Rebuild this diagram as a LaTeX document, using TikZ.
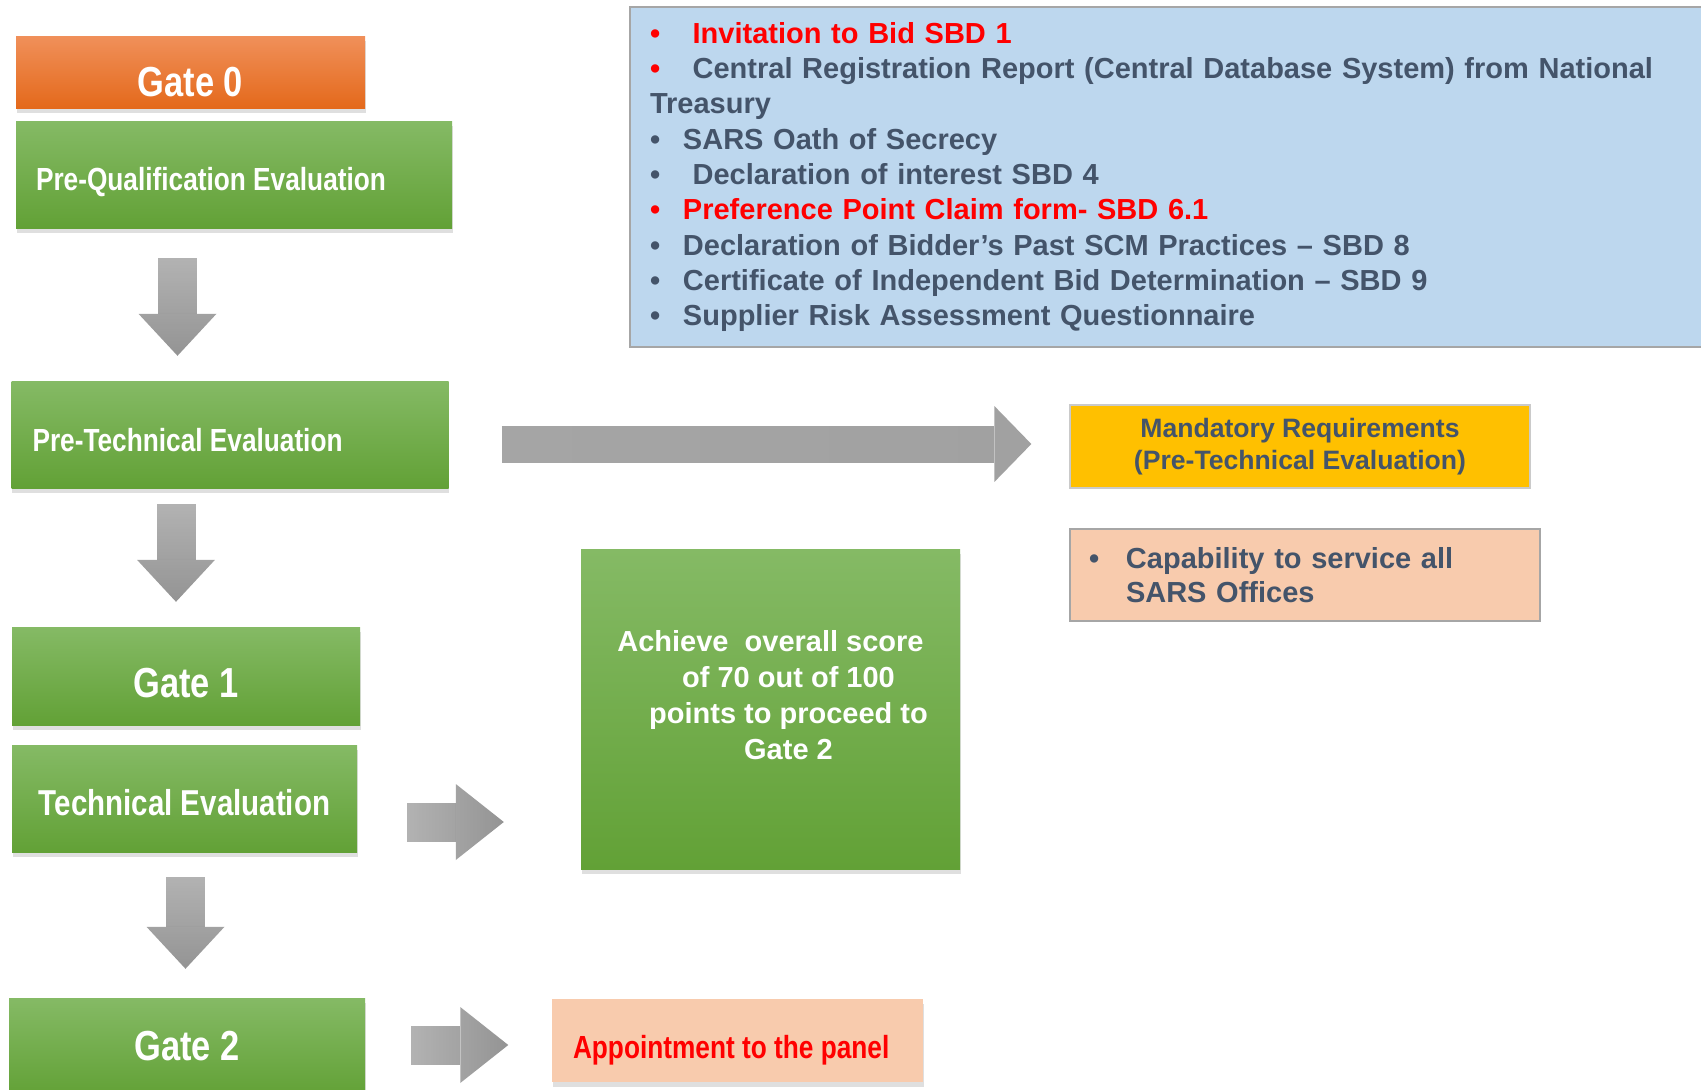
\documentclass[tikz,border=0pt]{standalone}
\usepackage{fontspec}
\setmainfont{Liberation Sans}
\newfontfamily\narrowfont{Liberation Sans}[FakeStretch=0.82]
\usetikzlibrary{arrows.meta,shadows,fadings}
\definecolor{orangetop}{HTML}{F0905A}
\definecolor{orangemid}{HTML}{F47C2C}
\definecolor{orangebot}{HTML}{E4691B}
\definecolor{greentop}{HTML}{85BA65}
\definecolor{greenmid}{HTML}{70B044}
\definecolor{greenbot}{HTML}{62A136}
\definecolor{listblue}{HTML}{BDD7EE}
\definecolor{boxgray}{HTML}{A6A6A6}
\definecolor{textgray}{HTML}{44546A}
\definecolor{mandyellow}{HTML}{FFC000}
\definecolor{peach}{HTML}{F8CBAD}
\definecolor{arrowgray}{HTML}{8E8E8E}
\newcommand{\blt}[1][33pt]{\makebox[#1][l]{•}}
\tikzfading[name=vfade,top color=transparent!38,bottom color=transparent!0]
\tikzfading[name=hfade,left color=transparent!38,right color=transparent!0]
\begin{tikzfadingfrompicture}[name=longfade]
	\shade[left color=transparent!38,right color=transparent!0] (-275pt,-50pt) rectangle (275pt,50pt);
\end{tikzfadingfrompicture}
\begin{document}
\begin{tikzpicture}
		[x=1pt,y=-1pt,
		shadowed/.style={drop shadow={shadow xshift=0.5pt,shadow yshift=-5pt,opacity=0.25}},
		orangebox/.style={rectangle,top color=orangetop,middle color=orangemid,bottom color=orangebot,
shadowed,inner sep=0pt,text=white},
		greenbox/.style={rectangle,top color=greentop,middle color=greenmid,bottom color=greenbot,
shadowed,inner sep=0pt,text=white},
		listbox/.style={rectangle,fill=listblue,draw=boxgray,line width=1.5pt,inner sep=0pt},
		yellowbox/.style={rectangle,fill=mandyellow,draw=boxgray!60,line width=1.5pt,inner sep=0pt},
		peachbox/.style={rectangle,fill=peach,draw=boxgray,line width=1.5pt,inner sep=0pt},
		gatetext/.style={font=\narrowfont\bfseries\fontsize{42}{48}\selectfont,text depth=0pt},
		evaltext/.style={font=\narrowfont\bfseries\fontsize{32}{38}\selectfont,text depth=0pt},
		bodytext/.style={font=\bfseries\fontsize{29}{35.3}\selectfont},
		vertarrow/.style={draw=arrowgray,line width=39pt,path fading=vfade,
-{Triangle[width=78pt,length=42pt,line width=0pt]}},
		horzarrow/.style={draw=arrowgray,line width=39pt,path fading=hfade,
-{Triangle[width=76pt,length=48pt,line width=0pt]}}]
		\fill[white] (0,0) rectangle (1701,1090);
		\useasboundingbox (0,0) rectangle (1701,1090);
		% left column
		\node at (190.5,72) (gate0) [orangebox,gatetext,text height=48,minimum width=349,minimum height=72] {Gate 0};
		\node at (234,174.5) (prequal) [greenbox,evaltext,text height=32,minimum width=436,minimum height=107,
text width=396,inner xsep=20,align=flush left] {Pre-Qualification Evaluation};
		\node at (230,434.5) (pretech) [greenbox,evaltext,text height=33,minimum width=436,minimum height=107,
text width=395,inner xsep=21,align=flush left] {Pre-Technical Evaluation};
		\node at (186,676) (gate1) [greenbox,gatetext,text height=42,minimum width=348,minimum height=98] {Gate 1};
		\node at (184.5,798.5) (techeval) [greenbox,font=\narrowfont\bfseries\fontsize{36}{42}\selectfont,
text height=34,text depth=0pt,minimum width=345,minimum height=107] {Technical Evaluation};
		\node at (187,1047) (gate2) [greenbox,gatetext,text height=26,minimum width=356,minimum height=98] {Gate 2};
		% right side
		\node at (1167.5,177) (docs) [listbox,bodytext,text=textgray,minimum width=1075,minimum height=340,
text width=1035,inner xsep=20,align=left]
			{{\color{red}\blt\ Invitation to Bid SBD 1}\\
			{\color{red}\blt}\ Central Registration Report (Central Database System) from National\\
			Treasury\\
			\blt SARS Oath of Secrecy\\
			\blt\ Declaration of interest SBD 4\\
			{\color{red}\blt Preference Point Claim form- SBD 6.1}\\
			\blt Declaration of Bidder’s Past SCM Practices – SBD 8\\
			\blt Certificate of Independent Bid Determination – SBD 9\\
			\blt Supplier Risk Assessment Questionnaire};
		\node at (1300,446.5) (mandatory) [yellowbox,font=\bfseries\fontsize{26.6}{32.5}\selectfont,text=textgray,
minimum width=460,minimum height=83,align=center] {Mandatory Requirements\\(Pre-Technical Evaluation)};
		\node at (1305,575) (capability) [peachbox,font=\bfseries\fontsize{29}{34}\selectfont,text=textgray,
minimum width=470,minimum height=92,text width=432,inner xsep=19,align=left]
			{\blt[37pt]Capability to service all\\\hspace*{37pt}SARS Offices};
		\node at (770.5,709) (achieve) [greenbox,minimum width=379,minimum height=320] {};
		\node at (770.5,695) (achievetext) [font=\bfseries\fontsize{29}{36}\selectfont,text=white,align=flush center]
			{Achieve\ \ overall score\\\hspace*{36pt}of 70 out of 100\\\hspace*{36pt}points to proceed to\\\hspace*{36pt}Gate 2};
		\node at (737.5,1040.5) (appoint) [peachbox,draw=none,shadowed,evaltext,text height=36,text=red,
minimum width=371,minimum height=83,text width=329,inner xsep=21,align=flush left] {Appointment to the panel};
		% connectors
		\draw [vertarrow] ([shift={(-56.5,30)}]prequal.south) -- ([shift={(-52.5,-25)}]pretech.north);
		\draw [vertarrow] ([shift={(-54,16)}]pretech.south) -- ([shift={(-10,-25)}]gate1.north);
		\draw [vertarrow] ([shift={(1,25)}]techeval.south) -- ([shift={(-1.5,-29)}]gate2.north);
		\draw [horzarrow,line width=37pt,path fading=longfade,
-{Triangle[width=76pt,length=37pt,line width=0pt]}]
			([shift={(54,9.5)}]pretech.east) -- ([shift={(-37,-2.5)}]mandatory.west);
		\draw [horzarrow] ([shift={(50,23.5)}]techeval.east) -- ([shift={(-77,113)}]achieve.west);
		\draw [horzarrow] ([shift={(46,-2)}]gate2.east) -- ([shift={(-43,4.5)}]appoint.west);
	\end{tikzpicture}
\end{document}
